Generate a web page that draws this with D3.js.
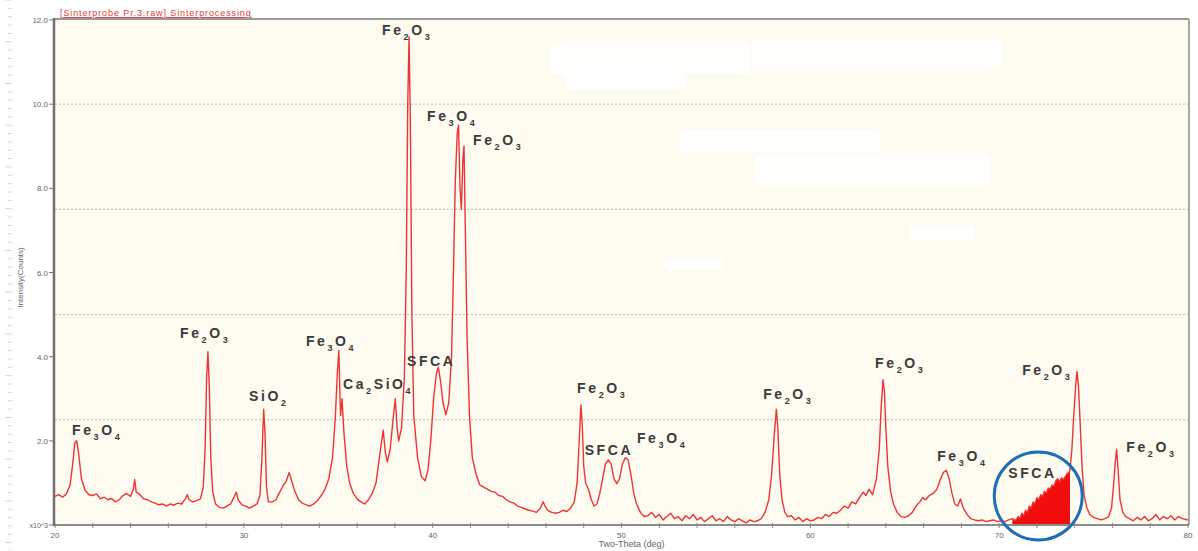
<!DOCTYPE html>
<html><head><meta charset="utf-8">
<script src="https://cdn.jsdelivr.net/npm/d3@7/dist/d3.min.js"></script>
<style>html,body{margin:0;padding:0;background:#fff;}svg{display:block;}</style>
</head><body>
<svg id="chart" width="1198" height="551"></svg>
<script>
// ---------- data ----------
const chartTitle = "[Sinterprobe Pr.3.raw] Sinterprocessing";
const xAxisTitle = "Two-Theta (deg)";
const yAxisTitle = "Intensity(Counts)";
const xTickValues = [20, 30, 40, 50, 60, 70, 80];
const yTickValues = [2, 4, 6, 8, 10, 12];
const yTickLabels = ["2.0", "4.0", "6.0", "8.0", "10.0", "12.0"];
const yZeroLabel = "x10^3";
const gridValues = [2.5, 5, 7.5, 10];

// two-theta (deg)
const twoTheta = [
20.0,20.2,20.4,20.6,20.8,20.95,21.05,21.15,21.25,21.4,21.6,21.8,22.0,22.2,22.4,22.6,22.8,23.0,23.2,23.4,23.6,23.8,24.0,24.15,24.22,24.3,24.5,24.7,24.9,25.1,25.3,25.5,25.7,25.9,26.1,26.3,26.5,26.7,26.9,27.0,27.1,27.3,27.5,27.7,27.85,27.95,28.03,28.1,28.17,28.25,28.35,28.5,28.7,28.9,29.1,29.3,29.5,29.6,29.7,29.9,30.1,30.3,30.5,30.7,30.85,30.95,31.05,31.12,31.2,31.3,31.5,31.7,31.9,32.1,32.25,32.4,32.55,32.7,32.9,33.1,33.3,33.5,33.7,33.9,34.1,34.3,34.5,34.7,34.85,34.95,35.03,35.12,35.2,35.3,35.45,35.6,35.8,36.0,36.2,36.4,36.6,36.8,37.0,37.15,37.3,37.38,37.5,37.6,37.75,37.9,38.02,38.12,38.2,38.35,38.5,38.6,38.68,38.75,38.82,38.9,39.0,39.2,39.4,39.6,39.75,39.9,40.05,40.2,40.3,40.42,40.55,40.7,40.85,41.0,41.1,41.2,41.3,41.37,41.45,41.52,41.6,41.66,41.73,41.82,41.95,42.1,42.3,42.5,42.7,42.9,43.1,43.3,43.5,43.7,43.9,44.1,44.3,44.5,44.7,44.9,45.1,45.3,45.5,45.7,45.85,45.95,46.1,46.3,46.5,46.7,46.9,47.1,47.3,47.5,47.65,47.75,47.85,47.92,48.0,48.1,48.25,48.4,48.55,48.7,48.85,49.0,49.15,49.3,49.45,49.6,49.75,49.9,50.05,50.2,50.35,50.5,50.65,50.8,51.0,51.2,51.4,51.6,51.8,52.0,52.2,52.4,52.6,52.8,53.0,53.2,53.4,53.6,53.8,54.0,54.2,54.4,54.6,54.8,55.0,55.2,55.4,55.6,55.8,56.0,56.2,56.4,56.6,56.8,57.0,57.2,57.4,57.6,57.8,57.95,58.1,58.2,58.28,58.38,58.5,58.65,58.8,59.0,59.2,59.4,59.6,59.8,60.0,60.2,60.4,60.6,60.8,61.0,61.2,61.4,61.6,61.8,62.0,62.2,62.4,62.6,62.8,62.95,63.1,63.3,63.5,63.65,63.75,63.85,63.92,64.0,64.1,64.25,64.4,64.6,64.8,65.0,65.2,65.4,65.6,65.8,65.95,66.1,66.3,66.5,66.7,66.9,67.05,67.2,67.35,67.5,67.65,67.8,67.95,68.1,68.3,68.5,68.7,68.9,69.1,69.3,69.5,69.7,69.9,70.1,70.3,70.5,70.7,70.8,70.9,71.0,71.1,71.2,71.3,71.4,71.5,71.6,71.7,71.8,71.9,72.0,72.1,72.2,72.3,72.4,72.5,72.6,72.7,72.8,72.9,73.0,73.1,73.2,73.3,73.4,73.5,73.6,73.7,73.75,73.85,73.95,74.05,74.12,74.2,74.3,74.4,74.5,74.65,74.8,75.0,75.2,75.4,75.6,75.8,75.95,76.05,76.15,76.22,76.3,76.4,76.55,76.7,76.9,77.1,77.3,77.5,77.7,77.9,78.1,78.3,78.5,78.7,78.9,79.1,79.3,79.5,79.7,80.0
];
// intensity (x10^3 counts)
const intensity = [
0.68,0.72,0.66,0.74,0.95,1.5,1.95,2.0,1.7,1.1,0.82,0.72,0.70,0.74,0.62,0.66,0.60,0.63,0.55,0.60,0.70,0.75,0.68,0.85,1.08,0.78,0.72,0.62,0.60,0.55,0.52,0.48,0.50,0.45,0.50,0.47,0.52,0.50,0.62,0.72,0.60,0.55,0.58,0.62,0.90,1.8,3.5,4.12,3.3,1.6,0.80,0.50,0.42,0.40,0.45,0.50,0.68,0.78,0.60,0.48,0.45,0.40,0.45,0.50,0.70,1.5,2.75,2.2,0.90,0.55,0.55,0.60,0.78,0.95,1.05,1.25,1.02,0.80,0.60,0.52,0.48,0.45,0.50,0.58,0.70,0.85,1.1,1.6,2.6,3.6,4.15,2.6,3.0,2.2,1.4,1.0,0.75,0.62,0.55,0.50,0.60,0.75,1.0,1.5,2.0,2.25,1.7,1.5,1.8,2.5,3.0,2.3,2.0,2.3,3.5,6.0,10.0,11.6,9.5,5.0,2.6,1.6,1.15,1.05,1.3,2.0,3.0,3.6,3.75,3.4,2.9,2.62,2.9,4.0,6.0,8.2,9.3,9.5,8.0,7.5,8.7,9.0,7.0,4.5,2.6,1.6,1.2,0.95,0.90,0.85,0.80,0.78,0.70,0.68,0.60,0.55,0.52,0.45,0.42,0.38,0.35,0.33,0.30,0.40,0.55,0.45,0.35,0.30,0.28,0.30,0.35,0.32,0.40,0.55,1.0,1.9,2.85,2.4,1.4,1.0,0.85,0.60,0.45,0.50,0.75,1.1,1.45,1.55,1.45,1.1,0.98,1.1,1.45,1.6,1.55,1.2,0.75,0.50,0.30,0.20,0.22,0.30,0.18,0.25,0.12,0.20,0.28,0.15,0.20,0.10,0.22,0.15,0.25,0.12,0.18,0.08,0.15,0.22,0.10,0.15,0.08,0.20,0.12,0.08,0.15,0.10,0.05,0.12,0.08,0.10,0.15,0.30,0.60,1.2,2.2,2.75,2.3,1.2,0.60,0.30,0.20,0.22,0.12,0.18,0.08,0.15,0.10,0.12,0.18,0.15,0.25,0.20,0.30,0.28,0.35,0.45,0.40,0.55,0.50,0.65,0.78,0.70,0.85,0.72,1.1,1.8,2.8,3.45,3.2,2.3,1.4,0.80,0.50,0.30,0.20,0.18,0.22,0.30,0.45,0.55,0.65,0.60,0.70,0.75,0.85,1.1,1.25,1.3,1.1,0.75,0.50,0.45,0.62,0.40,0.25,0.15,0.12,0.10,0.12,0.08,0.10,0.12,0.08,0.10,0.08,0.12,0.15,0.12,0.12,0.20,0.15,0.28,0.22,0.35,0.30,0.45,0.40,0.55,0.50,0.65,0.60,0.72,0.68,0.80,0.75,0.88,0.85,0.95,0.92,1.05,1.1,1.02,1.12,1.08,1.15,1.22,1.25,1.3,1.8,2.6,3.3,3.65,3.3,2.3,1.3,0.70,0.40,0.25,0.18,0.15,0.12,0.15,0.20,0.40,0.90,1.5,1.8,1.3,0.60,0.30,0.20,0.15,0.10,0.18,0.12,0.20,0.10,0.15,0.25,0.12,0.20,0.15,0.22,0.12,0.20,0.15,0.12
];

// highlighted SFCA integration range (deg)
const sfcaRange = [70.7, 73.75];
const sfcaCircle = {theta: 72.07, level: 0.69, radiusDeg: 2.33};

// phase labels, anchored (left/baseline) in data units
const labelNames = ["Fe3O4","Fe2O3","SiO2","Fe3O4","Ca2SiO4","SFCA","Fe2O3","Fe3O4","Fe2O3","Fe2O3","SFCA","Fe3O4","Fe2O3","Fe2O3","Fe3O4","SFCA","Fe2O3","Fe2O3"];
const labelTheta = [20.90,26.62,30.28,33.29,35.25,38.64,37.32,39.70,42.14,47.65,48.05,50.82,57.50,63.43,66.72,70.48,71.22,76.73];
const labelLevel = [2.14,4.44,2.94,4.25,3.23,3.77,11.65,9.61,9.02,3.13,1.66,1.95,2.99,3.72,1.52,1.12,3.56,1.73];

// ---------- drawing ----------
const svg = d3.select("#chart");
const pLeft = 55, pRight = 1188, pTop = 20, pBottom = 525;

const x = d3.scaleLinear().domain([20, 80]).range([pLeft, pRight]);
const y = d3.scaleLinear().domain([0, 12]).range([pBottom, pTop]);

// plot background
svg.append("rect").attr("x", pLeft).attr("y", pTop).attr("width", pRight - pLeft).attr("height", pBottom - pTop)
  .attr("fill", "#fefbf0");

// faint page ruler at far left
const ruler = d3.scaleLinear().domain([0, 66]).range([0, 551]);
svg.append("g").selectAll("line").data(d3.range(0, 67)).join("line")
  .attr("x1", d => d % 5 === 0 ? 5 : 8).attr("x2", 12)
  .attr("y1", d => ruler(d)).attr("y2", d => ruler(d))
  .attr("stroke", "#d6d6d6").attr("stroke-width", 1);

// grid
svg.append("g").selectAll("line").data(gridValues).join("line")
  .attr("x1", pLeft).attr("x2", pRight).attr("y1", d => y(d)).attr("y2", d => y(d))
  .attr("stroke", "#b9b9b9").attr("stroke-width", 1).attr("stroke-dasharray", "2,2");

// redacted whitish patches
const patches = [[550,44,200,30],[752,40,250,28],[565,72,120,18],[680,130,200,22],[755,155,235,30],[910,225,65,15],[665,260,58,10]];
svg.append("g").selectAll("rect").data(patches).join("rect")
  .attr("x", d => d[0]).attr("y", d => d[1]).attr("width", d => d[2]).attr("height", d => d[3])
  .attr("rx", 4).attr("fill", "#ffffff").attr("opacity", 0.85);

// frame
svg.append("line").attr("x1", pLeft).attr("x2", pRight + 1).attr("y1", pTop - 1).attr("y2", pTop - 1)
  .attr("stroke", "#9a9a9a").attr("stroke-width", 2);
svg.append("line").attr("x1", pRight + 1).attr("x2", pRight + 1).attr("y1", pTop - 1).attr("y2", pBottom)
  .attr("stroke", "#a8a8a8").attr("stroke-width", 2);

const data = twoTheta.map((t, i) => ({t, v: intensity[i]}));

// SFCA filled area
const fillData = data.filter(d => d.t >= sfcaRange[0] && d.t <= sfcaRange[1]);
svg.append("path").datum(fillData)
  .attr("d", d3.area().x(d => x(d.t)).y0(y(0)).y1(d => y(d.v)))
  .attr("fill", "#f20d0d");

// pattern line
svg.append("path").datum(data)
  .attr("d", d3.line().x(d => x(d.t)).y(d => y(d.v)))
  .attr("fill", "none").attr("stroke", "#ee3434").attr("stroke-width", 1.4)
  .attr("stroke-linejoin", "round");

// axes
const font = "Liberation Sans, Arial, sans-serif";
const xAxis = svg.append("g").attr("transform", `translate(0,${pBottom})`);
xAxis.append("line").attr("x1", pLeft).attr("x2", pRight + 1).attr("stroke", "#8c8c8c").attr("stroke-width", 2);
xAxis.selectAll("line.minor").data(d3.range(20, 81, 2)).join("line").attr("class", "minor")
  .attr("x1", d => x(d)).attr("x2", d => x(d)).attr("y1", -2).attr("y2", 3)
  .attr("stroke", "#888").attr("stroke-width", 1);
xAxis.selectAll("text").data(xTickValues).join("text")
  .attr("x", d => x(d)).attr("y", 13).attr("text-anchor", "middle")
  .attr("font-family", font).attr("font-size", 8).attr("fill", "#666")
  .text(d => d);

const yAxis = svg.append("g");
yAxis.append("line").attr("x1", pLeft - 1).attr("x2", pLeft - 1).attr("y1", pTop - 2).attr("y2", pBottom + 1)
  .attr("stroke", "#707070").attr("stroke-width", 2.5);
yAxis.selectAll("line.tick").data([0].concat(yTickValues)).join("line").attr("class", "tick")
  .attr("x1", pLeft - 6).attr("x2", pLeft - 1).attr("y1", d => y(d)).attr("y2", d => y(d))
  .attr("stroke", "#777").attr("stroke-width", 1);
yAxis.selectAll("text.lab").data(yTickValues).join("text").attr("class", "lab")
  .attr("x", pLeft - 7).attr("y", d => y(d) + 3).attr("text-anchor", "end")
  .attr("font-family", font).attr("font-size", 8).attr("fill", "#666")
  .text((d, i) => yTickLabels[i]);
yAxis.append("text").attr("x", pLeft - 7).attr("y", y(0) + 3).attr("text-anchor", "end")
  .attr("font-family", font).attr("font-size", 7).attr("fill", "#666")
  .text(yZeroLabel);

// axis titles
svg.append("text").attr("transform", `translate(23,${(pTop + pBottom) / 2 + 5}) rotate(-90)`)
  .attr("text-anchor", "middle").attr("font-family", font)
  .attr("font-size", 8).attr("fill", "#666").text(yAxisTitle);
svg.append("text").attr("x", (pLeft + pRight) / 2 + 10).attr("y", 547).attr("text-anchor", "middle")
  .attr("font-family", font).attr("font-size", 9).attr("fill", "#666")
  .text(xAxisTitle);

// title
svg.append("text").attr("x", pLeft + 5).attr("y", 16)
  .attr("font-family", font).attr("font-size", 9).attr("letter-spacing", 0.9)
  .attr("fill", "#e03b3b").attr("text-decoration", "underline").text(chartTitle);

// phase labels with subscripts
function parts(name) {
  const out = [];
  const re = /([A-Za-z]+)|(\d+)/g;
  let m;
  while ((m = re.exec(name)) !== null) out.push(m[1] ? [m[1], false] : [m[2], true]);
  return out;
}
const lg = svg.append("g").attr("font-family", font)
  .attr("font-weight", "bold").attr("fill", "#3a3a3a");
labelNames.forEach((name, i) => {
  const t = lg.append("text").attr("x", x(labelTheta[i])).attr("y", y(labelLevel[i]))
    .attr("font-size", 14).attr("letter-spacing", 2.6);
  let sub = false;
  parts(name).forEach(([s, isSub]) => {
    const ts = t.append("tspan").text(s);
    if (isSub && !sub) { ts.attr("dy", 5).attr("font-size", 9); sub = true; }
    else if (!isSub && sub) { ts.attr("dy", -5); sub = false; }
  });
});

// SFCA highlight circle
const rPx = x(sfcaCircle.theta + sfcaCircle.radiusDeg) - x(sfcaCircle.theta);
svg.append("circle").attr("cx", x(sfcaCircle.theta)).attr("cy", y(sfcaCircle.level)).attr("r", rPx)
  .attr("fill", "none").attr("stroke", "#1f6db5").attr("stroke-width", 3);
</script>
</body></html>
